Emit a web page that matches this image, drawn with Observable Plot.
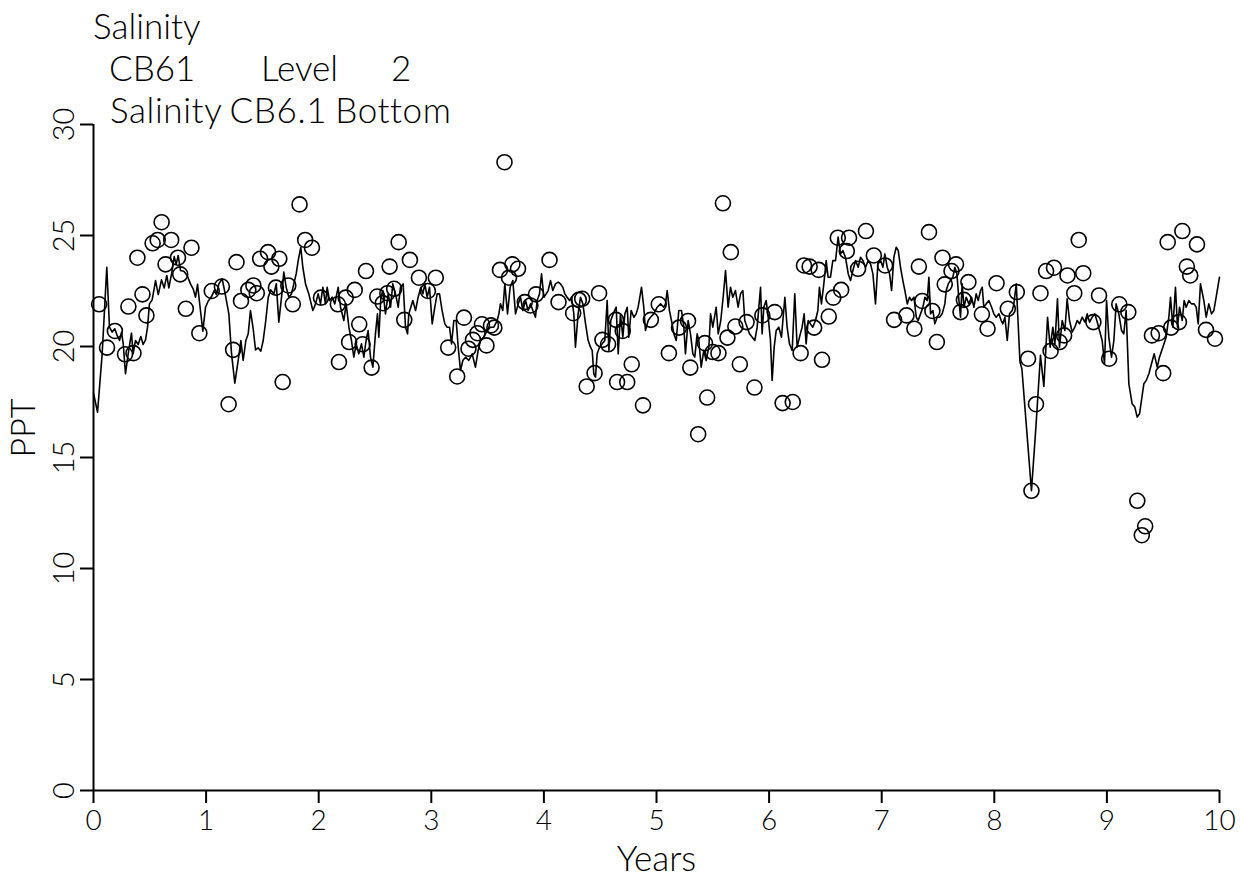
<!DOCTYPE html>
<html>
<head>
<meta charset="utf-8">
<script src="https://cdn.jsdelivr.net/npm/d3@7"></script>
<script src="https://cdn.jsdelivr.net/npm/@observablehq/plot@0.6"></script>
<style>
  html, body { margin: 0; padding: 0; background: #fff; }
  #wrap { position: relative; width: 1241px; height: 880px; }
  .t { position: absolute; font-family: Lato, "DejaVu Sans", sans-serif; font-weight: 300; font-size: 35px; line-height: 35px; color: #000; white-space: pre; }
  #chart { position: absolute; left: 0; top: 0; }
</style>
</head>
<body>
<div id="wrap">
  <div id="chart"></div>
  <div class="t" style="left:93px; top:8px;">Salinity</div>
  <div class="t" style="left:109px; top:50px;">CB61</div>
  <div class="t" style="left:261px; top:50px;">Level</div>
  <div class="t" style="left:391px; top:50px;">2</div>
  <div class="t" style="left:110px; top:92px; letter-spacing:0.6px; word-spacing:-2px;">Salinity CB6.1 Bottom</div>
</div>
<script>
// Model line (years, PPT)
const lineYears = [0.0,0.036,0.077,0.118,0.142,0.166,0.189,0.21,0.231,0.249,0.264,0.284,0.308,0.337,0.352,0.373,0.397,0.42,0.441,0.462,0.48,0.497,0.521,0.551,0.575,0.604,0.628,0.651,0.669,0.693,0.717,0.734,0.752,0.773,0.802,0.832,0.861,0.885,0.906,0.924,0.95,0.971,0.995,1.018,1.048,1.072,1.092,1.113,1.143,1.172,1.202,1.226,1.255,1.285,1.309,1.329,1.353,1.374,1.394,1.418,1.439,1.462,1.486,1.507,1.53,1.552,1.575,1.602,1.623,1.646,1.676,1.69,1.711,1.735,1.758,1.779,1.80,1.818,1.841,1.859,1.883,1.912,1.948,1.972,1.995,2.016,2.037,2.06,2.075,2.096,2.12,2.143,2.173,2.194,2.223,2.244,2.268,2.291,2.312,2.333,2.356,2.38,2.401,2.421,2.439,2.46,2.481,2.504,2.522,2.534,2.552,2.57,2.593,2.617,2.638,2.658,2.682,2.706,2.726,2.75,2.771,2.789,2.80,2.818,2.836,2.86,2.883,2.907,2.925,2.943,2.963,2.984,3.008,3.031,3.052,3.073,3.096,3.12,3.141,3.162,3.18,3.20,3.221,3.239,3.259,3.28,3.304,3.333,3.363,3.392,3.416,3.437,3.466,3.496,3.526,3.555,3.585,3.60,3.614,3.635,3.653,3.677,3.70,3.724,3.748,3.772,3.792,3.813,3.837,3.86,3.881,3.902,3.925,3.94,3.961,3.979,4.0,4.02,4.038,4.059,4.079,4.103,4.127,4.147,4.168,4.186,4.206,4.227,4.245,4.266,4.28,4.304,4.325,4.346,4.37,4.393,4.414,4.429,4.443,4.458,4.473,4.494,4.517,4.541,4.562,4.577,4.594,4.615,4.642,4.66,4.68,4.701,4.719,4.74,4.754,4.775,4.799,4.819,4.837,4.867,4.887,4.902,4.926,4.947,4.976,5.006,5.036,5.065,5.08,5.095,5.115,5.139,5.154,5.175,5.198,5.222,5.243,5.257,5.281,5.302,5.323,5.34,5.361,5.376,5.397,5.42,5.441,5.465,5.48,5.50,5.53,5.548,5.571,5.592,5.613,5.636,5.657,5.678,5.701,5.725,5.746,5.767,5.784,5.805,5.826,5.85,5.873,5.894,5.924,5.938,5.953,5.974,5.992,6.012,6.027,6.045,6.063,6.086,6.11,6.14,6.16,6.181,6.205,6.228,6.249,6.27,6.293,6.311,6.329,6.347,6.367,6.388,6.412,6.433,6.447,6.465,6.486,6.507,6.524,6.545,6.566,6.59,6.613,6.634,6.655,6.678,6.703,6.723,6.744,6.768,6.791,6.812,6.833,6.857,6.88,6.901,6.922,6.945,6.966,6.99,7.011,7.028,7.049,7.07,7.088,7.108,7.129,7.147,7.167,7.188,7.206,7.227,7.247,7.265,7.286,7.307,7.324,7.345,7.366,7.384,7.404,7.419,7.434,7.455,7.472,7.493,7.514,7.537,7.561,7.573,7.591,7.611,7.632,7.65,7.668,7.686,7.70,7.715,7.73,7.751,7.774,7.798,7.819,7.839,7.857,7.878,7.893,7.907,7.928,7.952,7.976,7.996,8.017,8.041,8.061,8.076,8.094,8.115,8.135,8.159,8.174,8.195,8.228,8.245,8.33,8.37,8.41,8.44,8.473,8.496,8.52,8.538,8.561,8.579,8.603,8.627,8.647,8.668,8.692,8.715,8.736,8.757,8.78,8.804,8.825,8.846,8.869,8.893,8.914,8.934,8.958,8.979,8.997,9.017,9.041,9.062,9.082,9.106,9.13,9.15,9.171,9.195,9.224,9.248,9.269,9.29,9.307,9.328,9.349,9.373,9.396,9.42,9.447,9.467,9.497,9.526,9.55,9.565,9.586,9.609,9.627,9.645,9.669,9.686,9.704,9.728,9.751,9.775,9.793,9.811,9.831,9.861,9.882,9.905,9.929,9.95,9.98,10.0];
const lineValues = [17.9,17.04,19.67,23.57,20.87,20.65,20.8,20.5,20.27,20.65,20.12,18.77,19.67,20.6,19.67,20.27,20.09,20.45,20.09,20.3,20.87,21.92,22.1,22.97,22.34,23.0,22.64,23.2,22.64,23.27,24.05,23.7,24.1,23.42,23.39,23.2,22.82,22.6,22.22,22.8,21.62,20.69,21.77,22.04,22.25,22.52,22.34,22.82,23.05,22.3,21.47,19.67,18.35,19.37,20.27,19.37,20.27,20.57,21.62,20.8,19.85,19.94,19.79,20.27,21.17,22.22,22.55,22.37,22.82,21.1,22.52,23.35,22.67,22.22,22.37,22.82,23.27,23.87,24.47,23.57,22.82,22.37,21.62,21.92,22.37,21.92,22.67,21.92,22.67,22.07,22.22,21.92,22.67,21.77,21.17,21.92,20.87,20.27,19.52,20.12,19.67,20.12,19.52,20.27,20.72,19.52,19.07,20.57,21.47,20.42,22.22,22.52,21.47,22.37,21.77,22.82,22.37,21.77,22.67,22.82,20.87,20.57,21.47,21.77,22.07,21.62,22.22,22.67,22.37,22.82,22.22,22.67,21.02,21.77,22.37,22.37,21.62,21.02,20.87,20.87,20.12,21.17,21.17,19.97,18.92,19.37,19.52,19.37,19.67,19.07,19.82,20.27,20.42,20.72,20.87,20.87,21.17,21.47,21.92,21.62,22.82,21.47,22.67,22.97,21.47,21.92,22.22,21.62,22.07,21.62,21.92,21.62,21.32,22.07,22.37,23.27,22.22,22.37,22.52,22.97,22.52,22.82,22.9,22.82,22.67,22.37,22.22,22.07,22.22,21.47,19.97,21.47,22.22,21.92,21.02,20.27,19.97,19.82,18.77,18.62,19.67,19.97,20.12,20.27,22.07,19.82,21.17,21.47,21.77,19.67,21.47,20.42,21.47,21.77,20.42,21.62,21.32,21.47,21.77,22.67,21.77,20.72,21.17,21.32,21.47,21.77,21.92,21.77,21.92,22.52,21.62,21.02,20.57,20.27,21.62,21.62,20.87,19.67,21.17,20.57,19.67,19.52,20.57,20.27,19.07,19.82,19.37,19.97,21.47,20.87,21.77,20.57,21.17,22.22,23.42,21.77,22.67,22.22,22.52,21.77,22.37,22.52,21.17,20.87,20.57,20.42,20.27,20.87,22.67,20.57,21.77,22.07,21.32,20.27,18.47,19.97,20.72,20.87,20.42,22.22,20.87,20.12,19.82,22.37,19.97,20.42,20.87,21.47,20.12,21.17,21.02,20.87,21.17,21.62,22.67,21.92,22.82,23.87,23.12,23.12,23.87,23.87,24.93,24.17,24.32,24.02,23.27,22.97,23.42,23.87,23.57,24.02,23.87,23.57,23.87,23.72,23.27,21.92,23.72,23.87,23.57,24.17,23.57,23.27,22.52,24.02,24.47,24.32,23.57,22.97,22.52,21.92,22.22,22.07,22.22,21.32,21.17,21.47,21.77,22.22,22.07,23.12,21.47,21.62,21.02,21.32,21.32,21.47,21.92,22.52,22.82,22.97,23.12,23.57,23.27,22.07,21.32,22.82,21.77,22.22,21.92,22.22,21.77,22.37,22.07,22.52,22.67,21.77,21.92,22.07,21.77,21.47,21.32,21.47,21.17,21.02,21.32,20.27,21.47,21.62,21.92,22.82,19.3,19.0,13.5,16.4,19.6,18.2,21.32,19.97,20.87,20.12,22.15,19.97,21.17,20.72,22.15,21.17,20.65,20.87,21.17,21.02,21.32,21.1,21.47,21.1,21.32,21.47,21.1,20.72,20.27,19.22,22.07,20.42,19.52,20.27,21.92,21.47,20.72,20.57,21.62,18.32,17.42,17.27,16.82,16.97,17.57,18.32,18.47,18.77,19.22,19.67,19.07,19.52,19.97,20.42,21.32,22.22,20.87,22.67,20.87,21.77,21.17,22.07,21.77,22.07,21.92,21.92,21.77,21.02,22.82,22.07,21.32,21.92,21.47,21.62,22.52,23.12];

// Observations (circles)
const obsYears = [0.05,0.12,0.19,0.28,0.31,0.355,0.39,0.435,0.47,0.525,0.57,0.605,0.64,0.69,0.75,0.77,0.82,0.87,0.94,1.05,1.14,1.20,1.24,1.27,1.31,1.375,1.42,1.45,1.48,1.55,1.58,1.62,1.65,1.68,1.73,1.77,1.83,1.88,1.94,2.02,2.17,2.18,2.24,2.27,2.32,2.36,2.39,2.42,2.47,2.52,2.57,2.61,2.63,2.67,2.71,2.76,2.81,2.89,2.97,3.04,3.15,3.23,3.29,3.33,3.37,3.41,3.45,3.49,3.53,3.56,3.61,3.65,3.69,3.72,3.77,3.83,3.88,3.93,4.05,4.13,4.26,4.31,4.34,4.38,4.45,4.49,4.52,4.57,4.64,4.65,4.70,4.74,4.78,4.88,4.95,5.02,5.11,5.20,5.28,5.30,5.37,5.43,5.45,5.50,5.55,5.59,5.63,5.66,5.70,5.74,5.80,5.87,5.94,6.05,6.12,6.21,6.28,6.31,6.36,6.40,6.44,6.47,6.53,6.57,6.61,6.64,6.69,6.71,6.79,6.86,6.93,7.03,7.11,7.22,7.29,7.33,7.36,7.42,7.45,7.49,7.54,7.56,7.62,7.66,7.70,7.73,7.77,7.89,7.94,8.02,8.12,8.20,8.30,8.33,8.37,8.41,8.46,8.50,8.53,8.58,8.62,8.65,8.71,8.75,8.79,8.88,8.93,9.02,9.11,9.19,9.27,9.31,9.34,9.40,9.46,9.50,9.54,9.57,9.64,9.67,9.71,9.74,9.80,9.88,9.96];
const obsValues = [21.9,19.95,20.7,19.65,21.8,19.7,24.0,22.35,21.4,24.65,24.8,25.6,23.7,24.8,24.0,23.25,21.7,24.45,20.6,22.5,22.7,17.4,19.85,23.8,22.05,22.55,22.75,22.4,23.95,24.25,23.6,22.65,23.95,18.4,22.75,21.9,26.4,24.8,24.45,22.2,21.9,19.3,22.2,20.2,22.55,21.0,20.1,23.4,19.05,22.25,21.95,22.4,23.6,22.6,24.7,21.2,23.9,23.1,22.5,23.1,19.95,18.65,21.3,19.9,20.3,20.6,21.0,20.05,20.95,20.85,23.45,28.3,23.1,23.7,23.5,22.0,21.85,22.35,23.9,22.0,21.5,22.1,22.15,18.2,18.8,22.4,20.3,20.1,21.2,18.4,20.7,18.4,19.2,17.35,21.2,21.9,19.7,20.85,21.15,19.05,16.05,20.15,17.7,19.75,19.7,26.45,20.4,24.25,20.9,19.2,21.1,18.15,21.4,21.55,17.45,17.5,19.7,23.65,23.6,20.85,23.45,19.4,21.35,22.2,24.9,22.55,24.3,24.9,23.5,25.2,24.1,23.65,21.2,21.4,20.8,23.6,22.05,25.15,21.6,20.2,24.0,22.8,23.4,23.7,21.55,22.1,22.9,21.45,20.8,22.85,21.7,22.45,19.45,13.5,17.4,22.4,23.4,19.8,23.55,20.2,20.5,23.2,22.4,24.8,23.3,21.1,22.3,19.45,21.9,21.55,13.05,11.5,11.9,20.5,20.6,18.8,24.7,20.85,21.1,25.2,23.6,23.2,24.6,20.75,20.35];

const xTicks = [0,1,2,3,4,5,6,7,8,9,10];
const yTicks = [0,5,10,15,20,25,30];
const xLabel = "Years";
const yLabel = "PPT";

const lineData = lineYears.map((x, i) => ({x, y: lineValues[i]}));
const obsData = obsYears.map((x, i) => ({x, y: obsValues[i]}));

const chart = Plot.plot({
  width: 1241,
  height: 880,
  marginLeft: 93,
  marginRight: 22,
  marginTop: 124,
  marginBottom: 90,
  style: {fontFamily: "Lato, 'DejaVu Sans', sans-serif", fontWeight: 300, background: "#fff", color: "#000"},
  x: {domain: [0, 10]},
  y: {domain: [0, 30]},
  marks: [
    Plot.axisX({ticks: xTicks, tickSize: 13, tickPadding: 7, fontSize: 28, tickFormat: d => String(d), label: null, strokeWidth: 2}),
    Plot.axisY({ticks: yTicks, tickSize: 13, tickPadding: 7, tickRotate: -90, fontSize: 29, tickFormat: d => String(d), label: null, strokeWidth: 2}),
    Plot.ruleY([0], {stroke: "#000", strokeWidth: 2}),
    Plot.ruleX([0], {stroke: "#000", strokeWidth: 2}),
    Plot.line(lineData, {x: "x", y: "y", stroke: "#000", strokeWidth: 1.6}),
    Plot.dot(obsData, {x: "x", y: "y", r: 7.5, stroke: "#000", strokeWidth: 1.6, fill: "none"}),
    Plot.text([xLabel], {frameAnchor: "bottom", dy: 80, fontSize: 35, text: d => d}),
    Plot.text([yLabel], {frameAnchor: "left", dx: -69, rotate: -90, fontSize: 34, text: d => d})
  ]
});
document.getElementById("chart").appendChild(chart);
</script>
</body>
</html>
